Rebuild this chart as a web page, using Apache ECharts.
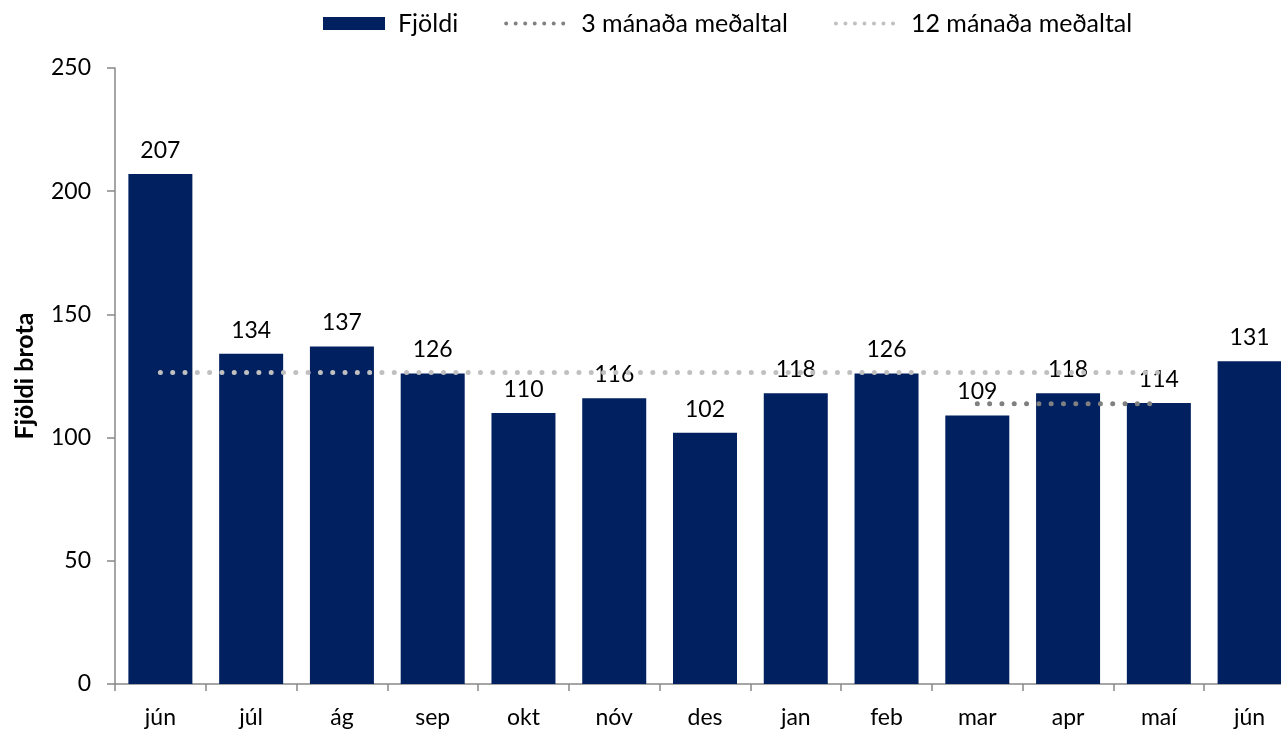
<!DOCTYPE html>
<html>
<head>
<meta charset="utf-8">
<script src="https://cdn.jsdelivr.net/npm/echarts@6/dist/echarts.min.js"></script>
<style>
  html, body { margin: 0; padding: 0; background: #fff; }
  #main { width: 1281px; height: 738px; }
</style>
</head>
<body>
<div id="main"></div>
<script>
// mánuðir á x-ás
const months = ['jún', 'júl', 'ág', 'sep', 'okt', 'nóv', 'des', 'jan', 'feb', 'mar', 'apr', 'maí', 'jún'];
// fjöldi brota á mánuði
const counts = [207, 134, 137, 126, 110, 116, 102, 118, 126, 109, 118, 114, 131];
// meðaltöl (lesin af myndinni)
const avg3 = [null, null, null, null, null, null, null, null, null, 113.7, 113.7, 113.7, null];
const avg12 = [126.4, 126.4, 126.4, 126.4, 126.4, 126.4, 126.4, 126.4, 126.4, 126.4, 126.4, 126.4, null];
const yTicks = [0, 50, 100, 150, 200, 250];

const font = 'Lato, "Liberation Sans", sans-serif';

const chart = echarts.init(document.getElementById('main'));

const legendDots = (color) => ({ color: color, width: 4, type: [0.01, 9.5], cap: 'round' });

const option = {
  animation: false,
  textStyle: { fontFamily: font, color: '#000' },
  legend: {
    top: 6,
    left: 318,
    itemWidth: 62,
    itemHeight: 13,
    itemGap: 46,
    textStyle: { fontSize: 25, color: '#000', fontFamily: font, padding: [0, 0, 0, 8] },
    data: [
      { name: 'Fjöldi', icon: 'rect' },
      { name: '3 mánaða meðaltal', itemStyle: { opacity: 0 }, lineStyle: legendDots('#808080') },
      { name: '12 mánaða meðaltal', itemStyle: { opacity: 0 }, lineStyle: legendDots('#c0c0c0') }
    ]
  },
  grid: { left: 115, top: 68, bottom: 54, width: 1180, outerBoundsMode: 'none', containLabel: false },
  xAxis: {
    type: 'category',
    data: months,
    axisLine: { lineStyle: { color: '#888', width: 1.5 } },
    axisTick: { show: true, length: 7, lineStyle: { color: '#888', width: 1.5 } },
    axisLabel: { fontSize: 23, color: '#000', margin: 22 }
  },
  yAxis: {
    type: 'value',
    min: yTicks[0],
    max: yTicks[yTicks.length - 1],
    interval: 50,
    name: 'Fjöldi brota',
    nameLocation: 'middle',
    nameGap: 78,
    nameTextStyle: { fontSize: 25, fontWeight: 'bold', color: '#000' },
    splitLine: { show: false },
    axisLine: { show: true, lineStyle: { color: '#888', width: 1.5 } },
    axisTick: { show: true, length: 8, lineStyle: { color: '#888', width: 1.5 } },
    axisLabel: { fontSize: 23, color: '#000', margin: 24 }
  },
  series: [
    {
      name: 'Fjöldi',
      type: 'bar',
      data: counts,
      barWidth: 64,
      itemStyle: { color: '#002060' },
      label: { show: true, position: 'top', distance: 12, fontSize: 23, color: '#000' },
      z: 2
    },
    {
      name: '3 mánaða meðaltal',
      type: 'line',
      data: avg3,
      symbol: 'none',
      lineStyle: { color: '#808080', width: 5, type: [0.01, 12.3], cap: 'round' },
      itemStyle: { color: '#808080' },
      z: 3
    },
    {
      name: '12 mánaða meðaltal',
      type: 'line',
      data: avg12,
      symbol: 'none',
      lineStyle: { color: '#c0c0c0', width: 5, type: [0.01, 12.3], cap: 'round' },
      itemStyle: { color: '#c0c0c0' },
      z: 3
    }
  ]
};

chart.setOption(option);
</script>
</body>
</html>
